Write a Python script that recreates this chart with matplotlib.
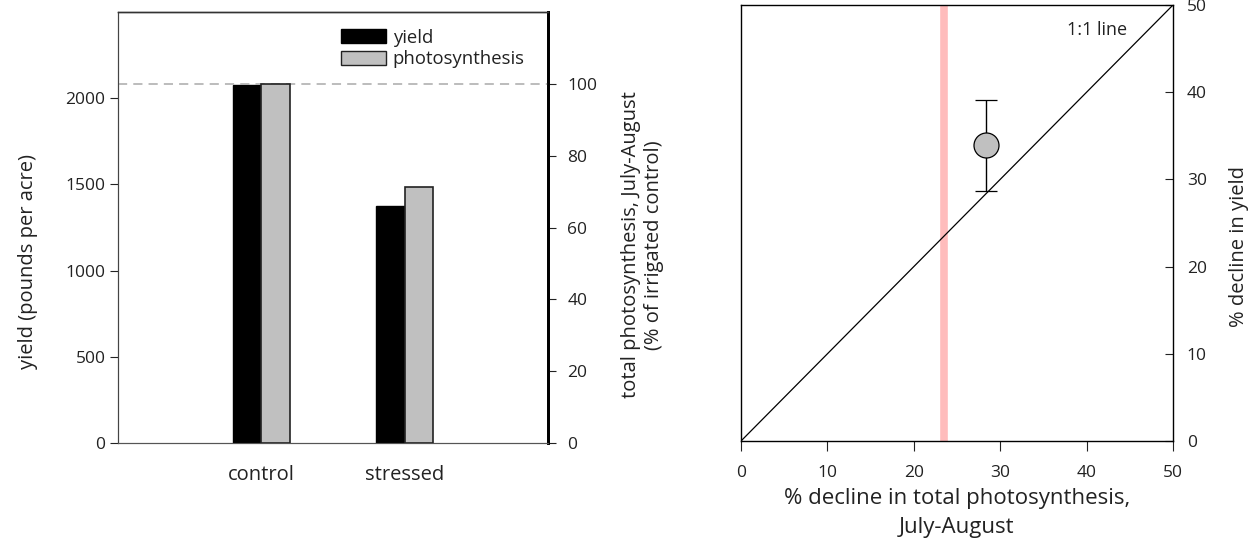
import matplotlib
matplotlib.use("Agg")
import matplotlib.pyplot as plt
from matplotlib.patches import Patch

# Bar chart data
categories = ["control", "stressed"]
yield_lbs = [2075, 1376]           # pounds per acre
photosynthesis_pct = [100, 71.3]   # % of irrigated control

# Scatter data
photo_decline = [28.4]
yield_decline = [33.9]
yield_decline_err = [5.2]
threshold_decline = 23.5

plt.rcParams["font.family"] = ["Open Sans", "DejaVu Sans"]
plt.rcParams["font.size"] = 12.5
txt = "#222222"
LBL = 14.5

fig = plt.figure(figsize=(12.55, 5.5), dpi=100)

# ---- left panel: yield and photosynthesis bars ----
ax1 = fig.add_axes([118 / 1255, 107 / 550, 430 / 1255, 431 / 550])
ax2 = ax1.twinx()
x = list(range(len(categories)))
w = 0.2
ax1.bar([i - w / 2 for i in x], yield_lbs, width=w, color="black",
        edgecolor="black", linewidth=1, zorder=3)
ax2.bar([i + w / 2 for i in x], photosynthesis_pct, width=w, color="#c0c0c0",
        edgecolor="#222222", linewidth=1.2, zorder=3)
ax2.axhline(100, color="#aaaaaa", linestyle=(0, (6, 4)), linewidth=1.1, zorder=1)

ax1.set_xlim(-1.0, 2.0)
ax1.set_ylim(0, 2500)
ax2.set_ylim(0, 120)
ax1.set_yticks([0, 500, 1000, 1500, 2000])
ax2.set_yticks([0, 20, 40, 60, 80, 100])
ax1.set_xticks(x)
ax1.set_xticklabels(categories, color=txt, fontsize=LBL)
ax1.tick_params(axis="x", length=0, pad=16)
ax1.tick_params(axis="y", direction="out", length=6, colors=txt, pad=3)
ax2.tick_params(axis="y", direction="out", length=6, colors=txt, pad=8)
ax1.set_ylabel("yield (pounds per acre)", color=txt, fontsize=LBL)
ax1.yaxis.set_label_coords(-0.185, 0.42)
ax2.set_ylabel("total photosynthesis, July-August\n(% of irrigated control)",
               color=txt, fontsize=LBL)
ax2.yaxis.set_label_coords(1.17, 0.46)

for ax in (ax1, ax2):
    ax.spines["top"].set_color("#333333")
    ax.spines["top"].set_linewidth(1)
    ax.spines["left"].set_color("#444444")
    ax.spines["bottom"].set_color("#555555")
    ax.spines["right"].set_color("black")
    ax.spines["right"].set_linewidth(2)

handles = [Patch(facecolor="black", edgecolor="black"),
           Patch(facecolor="#c0c0c0", edgecolor="#222222")]
ax1.legend(handles, ["yield", "photosynthesis"], loc="upper left",
           bbox_to_anchor=(0.48, 1.0), frameon=False, handlelength=2.45,
           handleheight=0.75, handletextpad=0.35, labelspacing=0.2,
           labelcolor=txt, fontsize=13.3)

# ---- right panel: decline in yield vs decline in photosynthesis ----
ax3 = fig.add_axes([741 / 1255, 109 / 550, 432 / 1255, 436 / 550])
ax3.set_xlim(0, 50)
ax3.set_ylim(0, 50)
ax3.axvline(threshold_decline, color="#ffbcbc", linewidth=5.5, zorder=1)
ax3.plot([0, 50], [0, 50], color="black", linewidth=0.9, zorder=2)
ax3.errorbar(photo_decline, yield_decline, yerr=yield_decline_err, fmt="o",
             markersize=18, markerfacecolor="#c0c0c0", markeredgecolor="black",
             markeredgewidth=0.9, ecolor="black", elinewidth=1, capsize=8,
             capthick=1, zorder=3)
ax3.text(44.7, 47.1, "1:1 line", ha="right", va="center", color=txt,
         fontsize=13)
ax3.yaxis.tick_right()
ax3.yaxis.set_label_position("right")
ax3.set_xticks([0, 10, 20, 30, 40, 50])
ax3.set_yticks([0, 10, 20, 30, 40, 50])
ax3.tick_params(axis="x", direction="out", length=7, colors=txt, pad=10)
ax3.tick_params(axis="y", direction="in", length=6, colors=txt, pad=10)
ax3.set_xlabel("% decline in total photosynthesis,\nJuly-August", color=txt,
               fontsize=16, labelpad=5, linespacing=1.5)
ax3.set_ylabel("% decline in yield", color=txt, fontsize=LBL)
ax3.yaxis.set_label_coords(1.129, 0.447)
for s in ax3.spines.values():
    s.set_color("black")
    s.set_linewidth(1)

fig.savefig("out.png", dpi=100)
